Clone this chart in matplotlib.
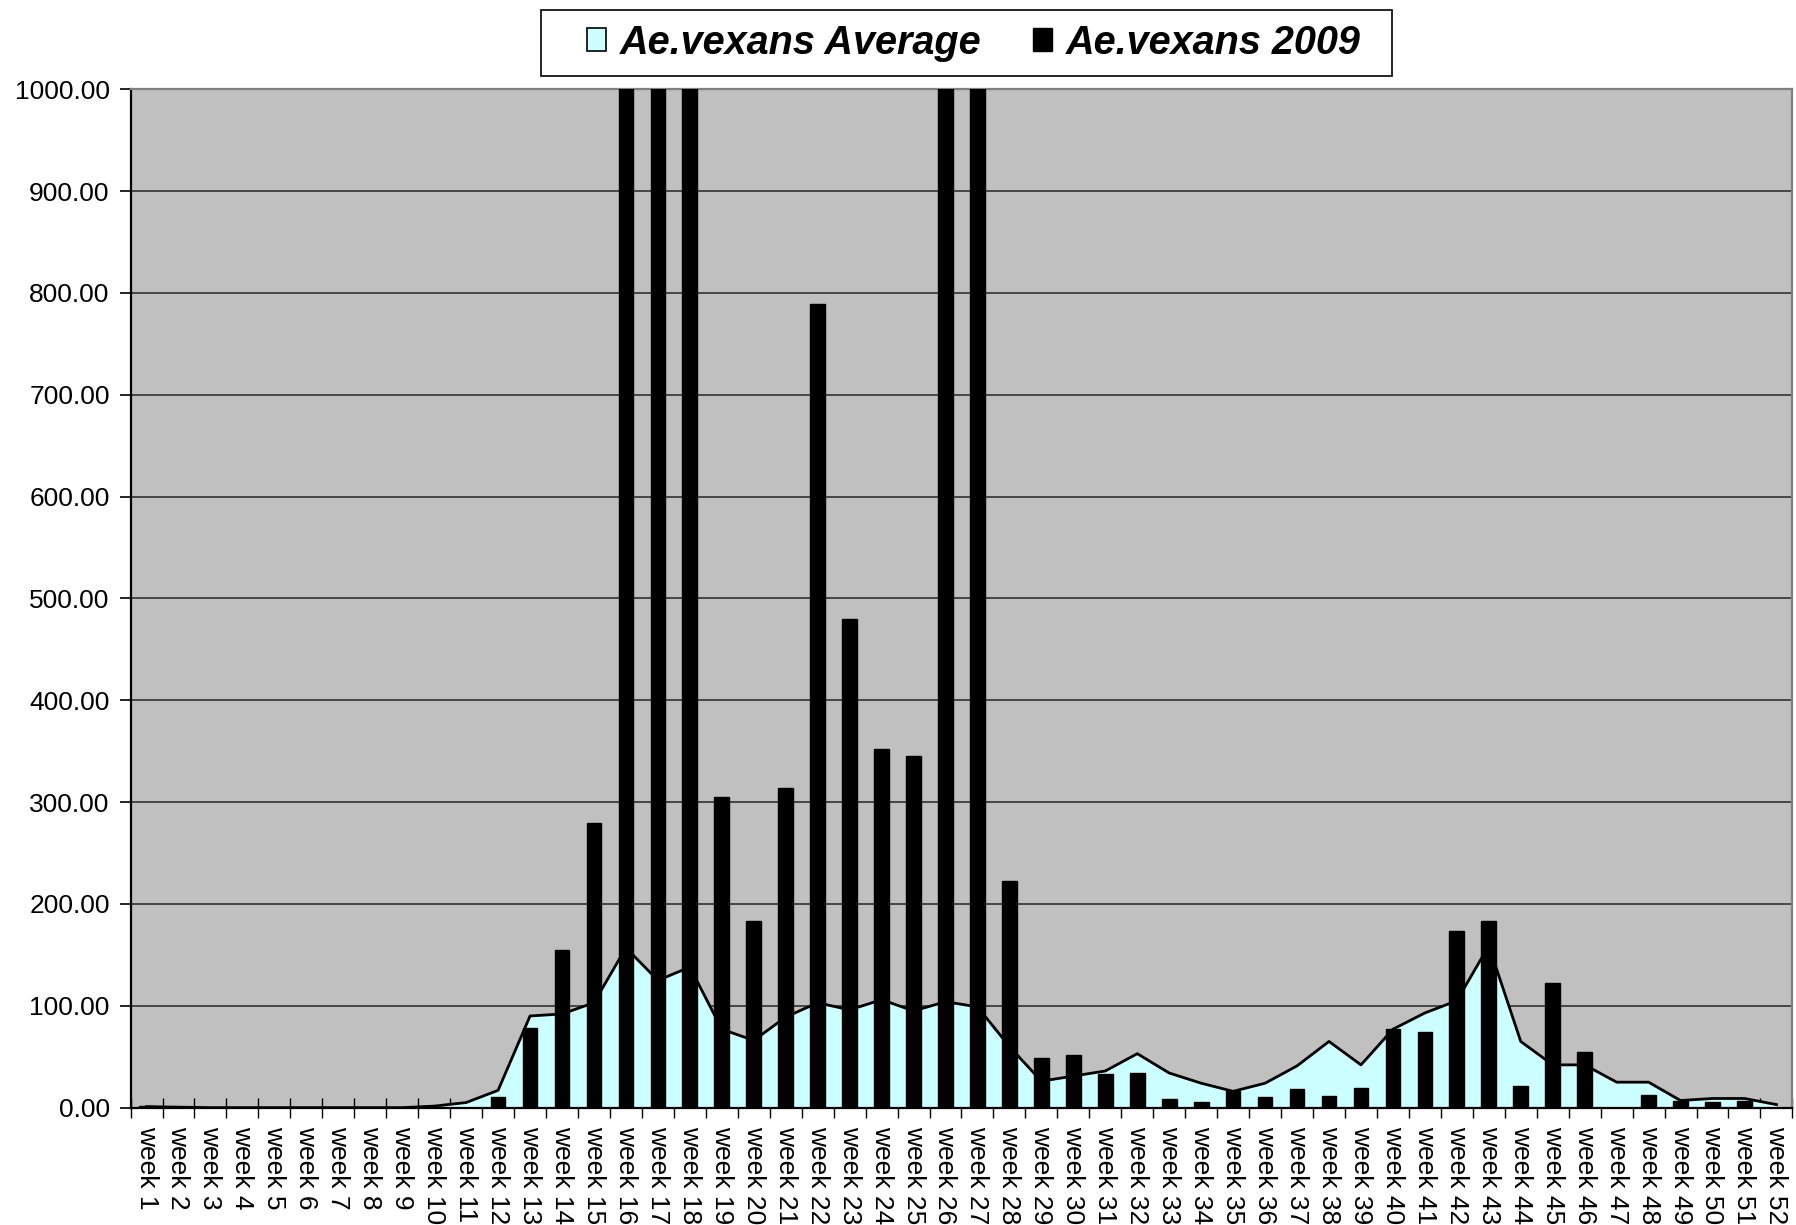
import matplotlib
matplotlib.use("Agg")
import matplotlib.pyplot as plt
from matplotlib.patches import Patch, Rectangle
import numpy as np

plt.rcParams['font.family'] = ['Liberation Sans', 'DejaVu Sans']

########## data
weeks = ["week %d" % i for i in range(1, 53)]

# Ae.vexans Average (area)
avg = [1, 0.5, 0, 0, 0, 0, 0, 0, 0, 1.5,
       5, 17, 90, 92, 103, 157, 125, 138, 77, 66,
       89, 103, 96, 106, 95, 104, 99, 60, 26, 31,
       36, 53, 34, 24, 16, 24, 41, 65, 42, 77,
       93, 105, 159, 65, 42, 42, 25, 25, 7, 9,
       9, 3]

# Ae.vexans 2009 (bars), values above 1000 are cut by the axis
y2009 = [2, 0, 0, 0, 0, 0, 0, 0, 0, 0,
         0, 10, 78, 155, 280, 1450, 2100, 1300, 305, 183,
         314, 789, 480, 352, 345, 1650, 1200, 223, 49, 52,
         33, 34, 8.5, 6, 16, 10, 18, 11.5, 19.5, 77,
         74, 173, 183, 21, 122, 55, 0, 12, 7, 6,
         6.5, 0]
##########

fig = plt.figure(figsize=(17.96, 12.25), dpi=100)
ax = fig.add_axes([0.0727, 0.0958, 0.9253, 0.8313])

pos = np.arange(1, 53)
ax.fill_between(pos, avg, 0, color='#CCFFFF', linewidth=0, zorder=2)
ax.plot(pos, avg, color='black', lw=2.0, zorder=3)
ax.bar(pos, y2009, width=0.46, color='black', edgecolor='black', lw=1.0, zorder=4)

ax.set_xlim(0.5, 52.5)
ax.set_ylim(0, 1000)
ax.set_facecolor('#C0C0C0')
ax.set_axisbelow(True)
ax.yaxis.grid(True, color='#333333', lw=1.2)

ax.set_yticks(np.arange(0, 1001, 100))
ax.set_yticklabels(['%.2f' % v for v in np.arange(0, 1001, 100)], fontsize=19)
ax.tick_params(axis='y', direction='out', length=8, width=1.2, pad=7)

ax.set_xticks(pos)
ax.set_xticklabels(weeks, rotation=-90, fontsize=19, va='top', ha='center')
ax.tick_params(axis='x', which='major', length=0, pad=13)
ax.set_xticks(np.arange(0.5, 53, 1), minor=True)
ax.tick_params(axis='x', which='minor', direction='inout', length=14, width=1.0)

for s in ['left', 'bottom']:
    ax.spines[s].set_color('black')
    ax.spines[s].set_linewidth(1.6)
for s in ['top', 'right']:
    ax.spines[s].set_color('#808080')
    ax.spines[s].set_linewidth(1.6)

# legend box (frame drawn separately, Excel style padding)
fig.patches.append(Rectangle((540.6 / 1796, 1 - 75.6 / 1225), 851 / 1796, 65.3 / 1225,
                             transform=fig.transFigure, facecolor='white',
                             edgecolor='black', lw=1.2, zorder=0))
handles = [Patch(facecolor='#CCFFFF', edgecolor='black', lw=1.2),
           Patch(facecolor='black', edgecolor='black')]
leg = fig.legend(handles, ['Ae.vexans Average', 'Ae.vexans 2009'],
                 loc='center', bbox_to_anchor=(974 / 1796, 1 - 42.5 / 1225),
                 ncol=2, frameon=False,
                 handlelength=0.48, handleheight=0.5, handletextpad=0.35,
                 columnspacing=1.3, borderpad=0.2,
                 prop={'weight': 'bold', 'style': 'italic', 'size': 28.5})

fig.savefig('out.png', dpi=100)
